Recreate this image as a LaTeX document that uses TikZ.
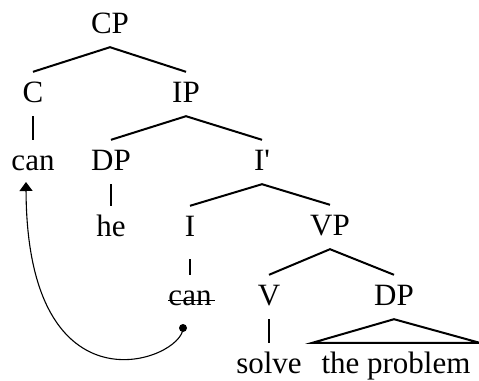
\documentclass[tikz,border=0pt]{standalone}
\usepackage{fontspec}
\setmainfont{Liberation Serif}
\usepackage{tikz}
\usetikzlibrary{arrows.meta}

\tikzset{
  cat/.style={anchor=base, inner sep=0pt, text height=30pt, text depth=14pt,
    font=\fontsize{31}{37}\selectfont},
  branch/.style={line width=2pt},
  movearrow/.style={line width=1.1pt, -{Triangle[length=9pt,width=13pt]}}
}

\begin{document}
\begin{tikzpicture}[x=1pt, y=-1pt]
				% === RAMKA ===
				\useasboundingbox (0,0) rectangle (479,380);
				
				% === WĘZŁY ===
				\node[cat] (cp) at (110,33) {CP};
				\node[cat] (c) at (33,102) {C};
				\node[cat] (ip) at (186,102) {IP};
				\node[cat] (can) at (33,170) {can};
				\node[cat] (dp) at (111,170) {DP};
				\node[cat] (ibar) at (262,170) {I\textquotesingle};
				\node[cat] (he) at (111,236) {he};
				\node[cat, text depth=23pt] (i) at (190,236) {I};
				\node[cat] (vp) at (330,235) {VP};
				\node[cat] (trace) at (190,305) {can};
				\node[cat] (v) at (269,305) {V};
				\node[cat] (dpobj) at (394,305) {DP};
				\node[cat] (solve) at (269,373) {solve};
				\node[cat, inner xsep=9pt] (prob) at (396,373) {the problem};
				
				% === GAŁĘZIE ===
				\draw[branch] (c.north) -- (cp.south) -- (ip.north);
				\draw[branch] (c.south) -- (can.north);
				\draw[branch] (dp.north) -- (ip.south) -- (ibar.north);
				\draw[branch] (dp.south) -- (he.north);
				\draw[branch] (i.north) -- (ibar.south) -- (vp.north);
				\draw[branch] (i.south) -- (trace.north);
				\draw[branch] (v.north) -- (vp.south) -- (dpobj.north);
				\draw[branch] (v.south) -- (solve.north);
				\draw[branch] (dpobj.south) -- (prob.north west) -- (prob.north east) -- cycle;
				
				% === ŚLAD (przekreślenie) ===
				\draw[line width=1pt] ([yshift=5pt]trace.base west) -- ([xshift=3pt,yshift=5pt]trace.base east);
				
				% === RUCH I -> C ===
				\coordinate (drop) at (183,328);
				\coordinate (land) at (26,182);
				\fill (drop) circle (4pt);
				\draw[movearrow] (drop) .. controls +(0,32) and +(1,238) .. (land);
				
\end{tikzpicture}
\end{document}
